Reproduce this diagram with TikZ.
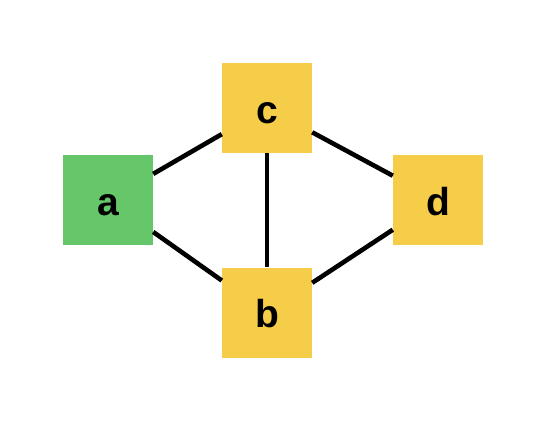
\documentclass[tikz,border=0pt]{standalone}
\usepackage{fontspec}
\setmainfont{Liberation Sans}
\definecolor{ngreen}{HTML}{66C66A}
\definecolor{nyellow}{HTML}{F6CD48}
\begin{document}
\begin{tikzpicture}[x=1pt,y=-1pt,
  vbox/.style={minimum width=90pt,minimum height=90pt,inner sep=0pt,draw=none,
    text height=30pt,text depth=0pt,
    font=\fontsize{39}{40}\selectfont\bfseries},
  edge/.style={line width=4.6pt,black}]
\useasboundingbox (0,0) rectangle (546,421);
\node[vbox,fill=ngreen] (a) at (108,200) {a};
\node[vbox,fill=nyellow] (c) at (267,108) {c};
\node[vbox,fill=nyellow] (d) at (438,200) {d};
\node[vbox,fill=nyellow] (b) at (267,312.5) {b};
\draw[edge] (a) -- (c);
\draw[edge] (a) -- (b);
\draw[edge] (c) -- (b);
\draw[edge] (c) -- (d);
\draw[edge] (b) -- (d);
\end{tikzpicture}
\end{document}
